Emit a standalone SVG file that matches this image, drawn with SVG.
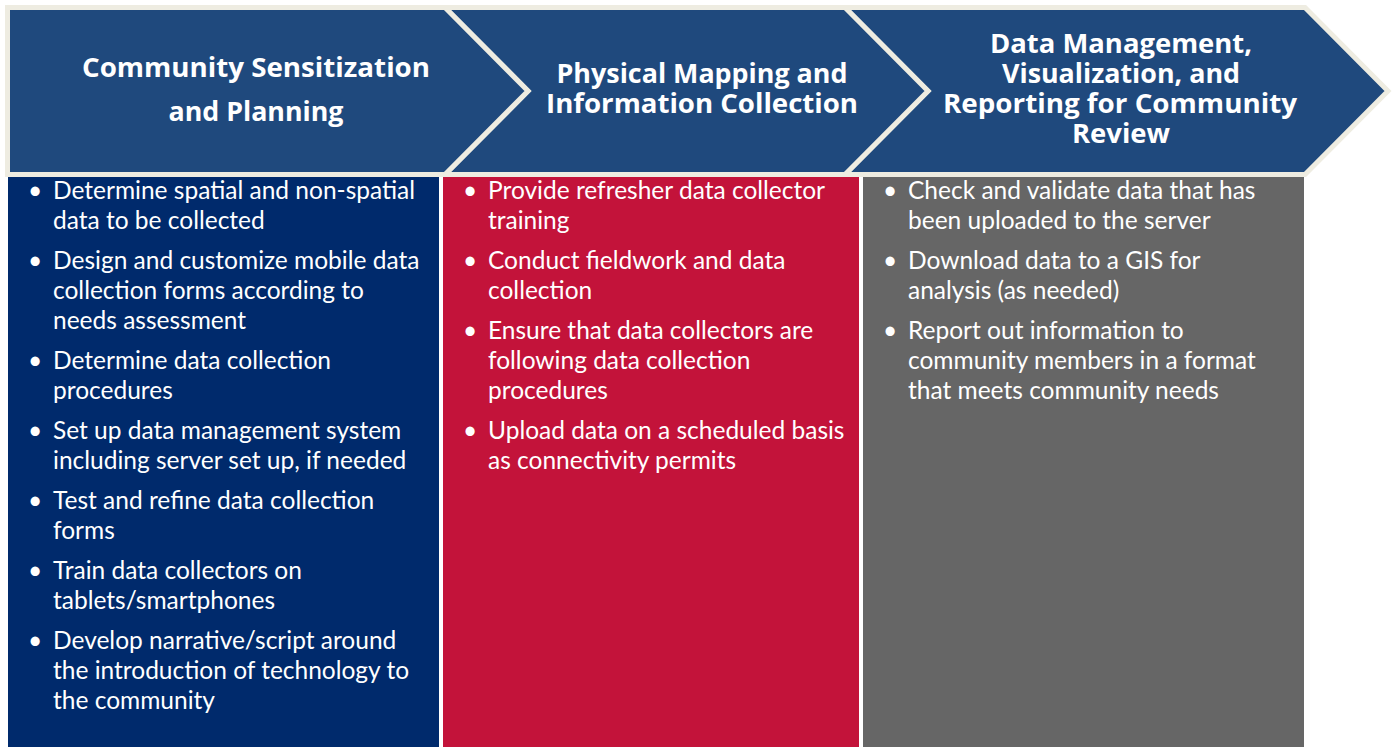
<svg xmlns="http://www.w3.org/2000/svg" width="1393" height="747" viewBox="0 0 1393 747">
<style>
.chev{fill:#1F497D;stroke:#EEECE1;stroke-width:5;stroke-linejoin:miter}
.head{font-family:"Open Sans",Lato,"Liberation Sans",sans-serif;font-weight:bold;font-size:26px;fill:#FFFFFF;text-anchor:middle}
.body{font-family:Lato,"Open Sans","Liberation Sans",sans-serif;font-size:24.5px;fill:#FFFFFF}
</style>
<rect x="0" y="0" width="1393" height="747" fill="#FFFFFF"/>
<g id="columns">
<rect id="col1" x="8" y="177" width="431" height="570" fill="#002A6C"/>
<rect id="col2" x="443" y="177" width="416" height="570" fill="#C3133A"/>
<rect id="col3" x="863" y="177" width="441" height="570" fill="#666666"/>
</g>
<g id="stage3">
<polygon class="chev" points="845,7.5 1305,7.5 1388,91 1305,174.5 845,174.5 928,91"/>
<text class="head" x="1121" y="53" textLength="262" lengthAdjust="spacingAndGlyphs">Data Management,</text>
<text class="head" x="1121" y="83" textLength="238" lengthAdjust="spacingAndGlyphs">Visualization, and</text>
<text class="head" x="1120" y="113" textLength="354" lengthAdjust="spacingAndGlyphs">Reporting for Community</text>
<text class="head" x="1121" y="143" textLength="98" lengthAdjust="spacingAndGlyphs">Review</text>
</g>
<g id="stage2">
<polygon class="chev" points="445,7.5 845,7.5 928,91 845,174.5 445,174.5 528,91"/>
<text class="head" x="702" y="83" textLength="291" lengthAdjust="spacingAndGlyphs">Physical Mapping and</text>
<text class="head" x="702" y="113" textLength="312" lengthAdjust="spacingAndGlyphs">Information Collection</text>
</g>
<g id="stage1">
<polygon class="chev" points="7.5,7.5 445,7.5 528,91 445,174.5 7.5,174.5"/>
<text class="head" x="256" y="77" textLength="348" lengthAdjust="spacingAndGlyphs">Community Sensitization</text>
<text class="head" x="256" y="121" textLength="175" lengthAdjust="spacingAndGlyphs">and Planning</text>
</g>
<g id="list1" class="body">
<text x="28" y="199">•</text><text x="53" y="199">Determine spatial and non-spatial</text>
<text x="53" y="229">data to be collected</text>
<text x="28" y="269">•</text><text x="53" y="269">Design and customize mobile data</text>
<text x="53" y="299">collection forms according to</text>
<text x="53" y="329">needs assessment</text>
<text x="28" y="369">•</text><text x="53" y="369">Determine data collection</text>
<text x="53" y="399">procedures</text>
<text x="28" y="439">•</text><text x="53" y="439">Set up data management system</text>
<text x="53" y="469">including server set up, if needed</text>
<text x="28" y="509">•</text><text x="53" y="509">Test and refine data collection</text>
<text x="53" y="539">forms</text>
<text x="28" y="579">•</text><text x="53" y="579">Train data collectors on</text>
<text x="53" y="609">tablets/smartphones</text>
<text x="28" y="649">•</text><text x="53" y="649">Develop narrative/script around</text>
<text x="53" y="679">the introduction of technology to</text>
<text x="53" y="709">the community</text>
</g>
<g id="list2" class="body">
<text x="463" y="199">•</text><text x="488" y="199">Provide refresher data collector</text>
<text x="488" y="229">training</text>
<text x="463" y="269">•</text><text x="488" y="269">Conduct fieldwork and data</text>
<text x="488" y="299">collection</text>
<text x="463" y="339">•</text><text x="488" y="339">Ensure that data collectors are</text>
<text x="488" y="369">following data collection</text>
<text x="488" y="399">procedures</text>
<text x="463" y="439">•</text><text x="488" y="439">Upload data on a scheduled basis</text>
<text x="488" y="469">as connectivity permits</text>
</g>
<g id="list3" class="body">
<text x="883" y="199">•</text><text x="908" y="199">Check and validate data that has</text>
<text x="908" y="229">been uploaded to the server</text>
<text x="883" y="269">•</text><text x="908" y="269">Download data to a GIS for</text>
<text x="908" y="299">analysis (as needed)</text>
<text x="883" y="339">•</text><text x="908" y="339">Report out information to</text>
<text x="908" y="369">community members in a format</text>
<text x="908" y="399">that meets community needs</text>
</g>
</svg>
